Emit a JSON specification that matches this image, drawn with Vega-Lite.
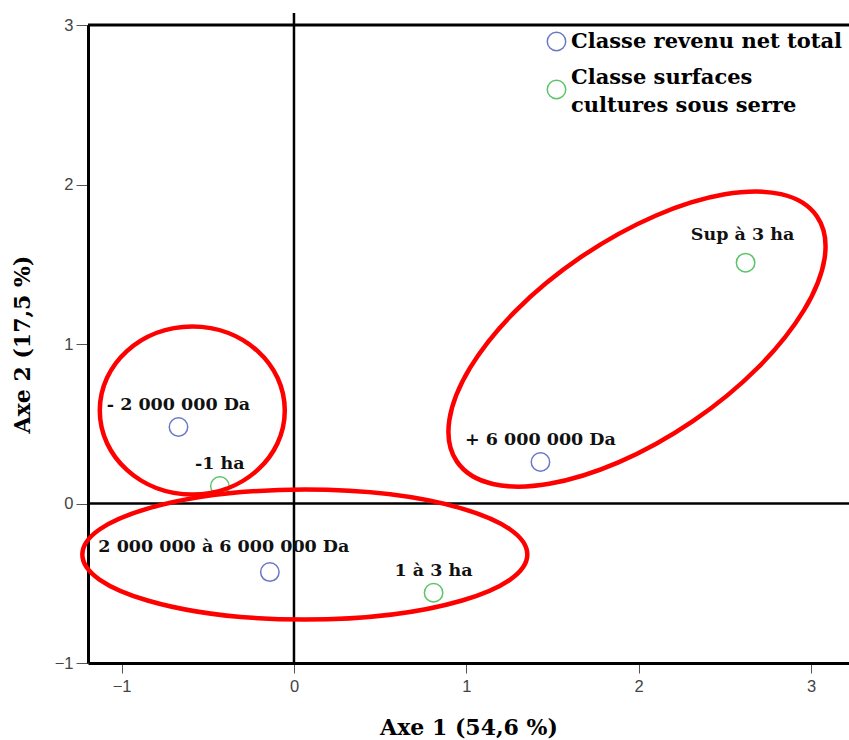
{
  "$schema": "https://vega.github.io/schema/vega-lite/v6.json",
  "width": 761,
  "height": 638,
  "autosize": "none",
  "padding": {"left": 88, "top": 25, "right": 0, "bottom": 77},
  "background": "white",
  "config": {
    "view": {"stroke": null},
    "style": {"guide-label": {"lineHeight": 28}},
    "axis": {
      "domainColor": "black",
      "domainWidth": 3,
      "tickColor": "#555555",
      "tickWidth": 1,
      "grid": false,
      "labelFont": "Liberation Sans",
      "labelFontSize": 16.5,
      "labelColor": "#444444",
      "titleFont": "DejaVu Serif",
      "titleFontSize": 22,
      "titleFontWeight": "bold",
      "titleColor": "black"
    },
    "legend": {
      "orient": "none",
      "legendX": 458,
      "legendY": 6,
      "padding": 0,
      "symbolSize": 340,
      "symbolStrokeWidth": 1.5,
      "symbolFillColor": "transparent",
      "symbolOpacity": 1,
      "labelFont": "DejaVu Serif",
      "labelFontWeight": "bold",
      "labelFontSize": 21,
      "labelColor": "black",
      "labelOffset": 4,
      "labelLimit": 400,
      "rowPadding": 12
    }
  },
  "datasets": {
    "pts": [
      {"label": "- 2 000 000 Da", "group": "Classe revenu net total", "x": -0.67, "y": 0.48},
      {"label": "2 000 000 à 6 000 000 Da", "group": "Classe revenu net total", "x": -0.14, "y": -0.43},
      {"label": "+ 6 000 000 Da", "group": "Classe revenu net total", "x": 1.43, "y": 0.26},
      {"label": "-1 ha", "group": "Classe surfaces cultures sous serre", "x": -0.43, "y": 0.11},
      {"label": "1 à 3 ha", "group": "Classe surfaces cultures sous serre", "x": 0.81, "y": -0.56},
      {"label": "Sup à 3 ha", "group": "Classe surfaces cultures sous serre", "x": 2.62, "y": 1.51}
    ],
    "ellipses": [
      {"name": "left", "x": -0.59, "y": 0.583},
      {"name": "bottom", "x": 0.063, "y": -0.32},
      {"name": "right", "x": 1.99, "y": 1.031}
    ]
  },
  "layer": [
    {
      "data": {"values": [{"a": 0}]},
      "mark": {"type": "rule", "color": "black", "strokeWidth": 2.5},
      "encoding": {
        "x": {"datum": 0, "type": "quantitative", "scale": {"domain": [-1.195, 3.22], "nice": false, "zero": false}},
        "y": {"datum": 3.075, "type": "quantitative", "scale": {"domain": [-1, 3], "nice": false}},
        "y2": {"datum": -1}
      }
    },
    {
      "data": {"values": [{"a": 0}]},
      "mark": {"type": "rule", "color": "black", "strokeWidth": 2.5},
      "encoding": {
        "y": {"datum": 0, "type": "quantitative"},
        "x": {"datum": -1.195, "type": "quantitative"},
        "x2": {"datum": 3.22}
      }
    },
    {
      "data": {"values": [{"a": 0}]},
      "mark": {"type": "rule", "color": "black", "strokeWidth": 3},
      "encoding": {
        "y": {"datum": 3, "type": "quantitative"},
        "x": {"datum": -1.195, "type": "quantitative"},
        "x2": {"datum": 3.22}
      }
    },
    {
      "data": {"name": "pts"},
      "mark": {"type": "point", "filled": false, "size": 340, "strokeWidth": 1.5, "opacity": 0},
      "encoding": {
        "x": {"field": "x", "type": "quantitative"},
        "y": {"field": "y", "type": "quantitative"},
        "color": {
          "field": "group", "type": "nominal",
          "legend": {"title": null, "labelExpr": "datum.label == 'Classe surfaces cultures sous serre' ? ['Classe surfaces', 'cultures sous serre'] : datum.label"}
        },
        "shape": {
          "field": "group", "type": "nominal",
          "scale": {"domain": ["Classe revenu net total", "Classe surfaces cultures sous serre"], "range": ["circle", "M -1 1.3 A 1 1 0 1 0 1 1.3 A 1 1 0 1 0 -1 1.3 Z"]},
          "legend": {"title": null, "labelExpr": "datum.label == 'Classe surfaces cultures sous serre' ? ['Classe surfaces', 'cultures sous serre'] : datum.label"}
        }
      }
    },
    {
      "data": {"name": "pts"},
      "mark": {"type": "point", "shape": "circle", "filled": false, "size": 340, "strokeWidth": 1.5, "opacity": 1},
      "encoding": {
        "x": {
          "field": "x", "type": "quantitative",
          "scale": {"domain": [-1.195, 3.22], "nice": false, "zero": false},
          "axis": {"values": [-1, 0, 1, 2, 3], "format": "d", "title": "Axe 1 (54,6 %)", "tickSize": 10, "labelPadding": 5, "titlePadding": 23, "labelFlush": false}
        },
        "y": {
          "field": "y", "type": "quantitative",
          "scale": {"domain": [-1, 3], "nice": false, "zero": false},
          "axis": {"values": [-1, 0, 1, 2, 3], "format": "d", "title": "Axe 2 (17,5 %)", "tickSize": 12, "labelPadding": 3, "titlePadding": 20, "labelFlush": false}
        },
        "color": {
          "field": "group", "type": "nominal",
          "scale": {"domain": ["Classe revenu net total", "Classe surfaces cultures sous serre"], "range": ["#6b78c6", "#5cc468"]},
          "legend": {"title": null, "labelExpr": "datum.label == 'Classe surfaces cultures sous serre' ? ['Classe surfaces', 'cultures sous serre'] : datum.label"}
        }
      }
    },
    {
      "data": {"name": "pts"},
      "transform": [{"filter": "datum.label != '2 000 000 à 6 000 000 Da' && datum.label != 'Sup à 3 ha'"}],
      "mark": {"type": "text", "font": "DejaVu Serif", "fontWeight": "bold", "fontSize": 17.5, "color": "#111111", "align": "center", "baseline": "alphabetic", "dy": -17},
      "encoding": {
        "x": {"field": "x", "type": "quantitative"},
        "y": {"field": "y", "type": "quantitative"},
        "text": {"field": "label"}
      }
    },
    {
      "data": {"name": "pts"},
      "transform": [{"filter": "datum.label == '2 000 000 à 6 000 000 Da'"}],
      "mark": {"type": "text", "font": "DejaVu Serif", "fontWeight": "bold", "fontSize": 17.5, "color": "#111111", "align": "center", "baseline": "alphabetic", "dy": -20, "dx": -46},
      "encoding": {
        "x": {"field": "x", "type": "quantitative"},
        "y": {"field": "y", "type": "quantitative"},
        "text": {"field": "label"}
      }
    },
    {
      "data": {"name": "pts"},
      "transform": [{"filter": "datum.label == 'Sup à 3 ha'"}],
      "mark": {"type": "text", "font": "DejaVu Serif", "fontWeight": "bold", "fontSize": 17.5, "color": "#111111", "align": "center", "baseline": "alphabetic", "dy": -23, "dx": -3},
      "encoding": {
        "x": {"field": "x", "type": "quantitative"},
        "y": {"field": "y", "type": "quantitative"},
        "text": {"field": "label"}
      }
    },
    {
      "data": {"name": "ellipses"},
      "transform": [{"filter": "datum.name == 'left'"}],
      "mark": {"type": "point", "filled": false, "color": "#ff0000", "strokeWidth": 4.5, "opacity": 1, "size": 34225, "shape": "M -1 0 A 1 0.908 0 1 0 1 0 A 1 0.908 0 1 0 -1 0 Z"},
      "encoding": {
        "x": {"field": "x", "type": "quantitative"},
        "y": {"field": "y", "type": "quantitative"}
      }
    },
    {
      "data": {"name": "ellipses"},
      "transform": [{"filter": "datum.name == 'bottom'"}],
      "mark": {"type": "point", "filled": false, "color": "#ff0000", "strokeWidth": 4.5, "opacity": 1, "size": 198025, "shape": "M -1 0 A 1 0.292 0 1 0 1 0 A 1 0.292 0 1 0 -1 0 Z"},
      "encoding": {
        "x": {"field": "x", "type": "quantitative"},
        "y": {"field": "y", "type": "quantitative"}
      }
    },
    {
      "data": {"name": "ellipses"},
      "transform": [{"filter": "datum.name == 'right'"}],
      "mark": {"type": "point", "filled": false, "color": "#ff0000", "strokeWidth": 4.5, "opacity": 1, "size": 189747, "angle": 325.75, "shape": "M -1 0 A 1 0.456 0 1 0 1 0 A 1 0.456 0 1 0 -1 0 Z"},
      "encoding": {
        "x": {"field": "x", "type": "quantitative"},
        "y": {"field": "y", "type": "quantitative"}
      }
    }
  ]
}
